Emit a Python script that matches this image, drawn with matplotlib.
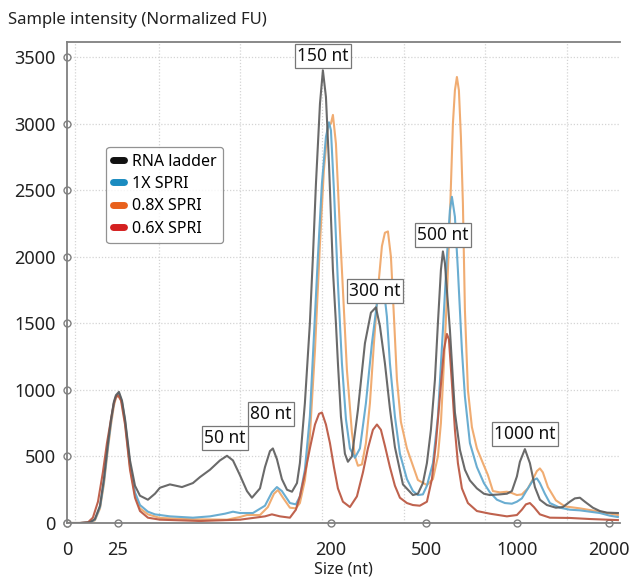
import matplotlib.pyplot as plt
from matplotlib.lines import Line2D
import numpy as np

plt.rcParams['font.family'] = ['Noto Sans', 'DejaVu Sans']

# axis: sizes in nt placed on a piecewise (non-linear) size axis
tick_nt = [0, 25, 200, 500, 1000, 2000]
scale_nt = [0, 25, 200, 500, 1000, 2000, 3000]
scale_pos = [0, 51, 264, 359, 450, 542, 634]
grid_pos = [8, 92, 173, 255, 337, 418, 500]
y_ticks = [0, 500, 1000, 1500, 2000, 2500, 3000, 3500]

# RNA ladder
ladder_x = [0, 6.4, 11.3, 13.7, 16.2, 18.1, 20.1, 21.6, 23.0, 24.0, 25.8, 28.3, 30.8, 34.9, 39.0,
            43.1, 49.6, 55.4, 59.5, 67.7, 77.6, 86.6, 92.4, 100.6, 108.8, 114.6, 119.5, 125.2,
            131.0, 135.1, 141.7, 145.8, 149.9, 152.3, 155.6, 159.7, 163.9, 168.0, 172.1, 174.5,
            178.6, 182.7, 185.2, 187.7, 191.0, 193.4, 195.9, 198.4, 206.3, 215.8, 222.1, 231.6,
            244.2, 253.7, 266.3, 285.3, 307.4, 326.3, 342.1, 354.7, 370.5, 386.3, 402.1, 427.4,
            459.0, 474.7, 490.5, 505.5, 527.5, 549.5, 565.9, 582.4, 593.4, 604.4, 615.4, 631.9,
            659.4, 686.8, 714.3, 741.8, 780.2, 818.7, 851.7, 906.6, 945.1, 972.5, 1000, 1032.6,
            1087.0, 1141.3, 1195.7, 1250, 1326, 1423.9, 1500, 1576, 1630, 1685, 1739, 1826, 1902,
            1978, 2098]
ladder_y = [0, 0, 5, 30, 130, 330, 600, 780, 910, 960, 985, 920, 780, 470, 280,
            205, 175, 220, 265, 290, 270, 300, 345, 400, 470, 505, 470, 360,
            240, 190, 260, 420, 540, 560, 480, 330, 250, 235, 300, 450,
            900, 1500, 2000, 2550, 3150, 3400, 3200, 2700, 1900, 1500, 1200, 800,
            520, 460, 500, 850, 1350, 1580, 1620, 1480, 1200, 860, 570, 290,
            210, 220, 300, 450, 700, 1074, 1500, 1900, 2040, 1950, 1750, 1450,
            830, 550, 400, 320, 260, 220, 210, 215, 220, 240, 350, 460,
            555, 450, 270, 175, 135, 115, 120, 160, 185, 190, 160, 115, 90,
            78, 75]

# 1X SPRI
spri10_x = [0, 6.4, 11.3, 13.7, 16.2, 18.1, 20.1, 21.6, 23.0, 24.0, 25.8, 28.3, 30.8, 34.9, 39.0,
            43.1, 49.6, 55.4, 67.7, 86.6, 100.6, 112.9, 119.5, 125.2, 135.9, 145.8, 151.5, 155.6,
            159.7, 166.3, 171.2, 174.5, 178.6, 182.7, 186.0, 189.3, 192.6, 195.9, 198.4, 200,
            209.5, 222.1, 234.7, 247.4, 260.0, 275.8, 291.6, 310.5, 329.5, 345.3, 357.9, 367.4,
            376.8, 386.3, 402.1, 417.9, 440, 459, 474.7, 490.5, 505.5, 538.5, 565.9, 593.4, 615.4,
            631.9, 642.9, 659.4, 675.8, 697.8, 714.3, 741.8, 780.2, 818.7, 851.7, 890.2, 934.1,
            972.5, 1000, 1054, 1119.6, 1173.9, 1217.4, 1250, 1304, 1358.7, 1467, 1576, 1685,
            1794, 1902, 2010.9, 2098]
spri10_y = [0, 0, 5, 25, 120, 310, 580, 760, 900, 950, 975, 910, 770, 440, 230,
            135, 85, 65, 50, 40, 50, 70, 85, 75, 75, 130, 230, 270,
            240, 150, 140, 200, 400, 800, 1400, 2000, 2550, 2900, 3010, 2950,
            2500, 1800, 1200, 780, 560, 490, 560, 900, 1350, 1650, 1770, 1750,
            1550, 1200, 800, 520, 330, 240, 210, 215, 280, 450, 800, 1450, 2000,
            2350, 2450, 2300, 1900, 1300, 950, 600, 420, 300, 230, 175, 150,
            145, 160, 185, 260, 320, 335, 300, 220, 150, 115, 100, 95,
            85, 75, 55, 45]

# 0.8X SPRI
spri08_x = [0, 6.4, 11.3, 13.7, 16.2, 18.1, 20.1, 21.6, 23.0, 24.0, 25.8, 28.3, 30.8, 34.9, 39.0,
            43.1, 49.6, 59.5, 86.6, 114.6, 125.2, 131.0, 141.7, 148.2, 153.2, 156.5, 160.6,
            166.3, 171.2, 174.5, 178.6, 182.7, 186.9, 191.0, 194.2, 197.5, 200, 206.3, 215.8,
            228.4, 237.9, 250.5, 266.3, 275.8, 285.3, 297.9, 310.5, 323.2, 335.8, 348.4, 361.1,
            370.5, 380.0, 389.5, 399, 408.4, 421, 440, 474.7, 505.5, 538.5, 565.9, 582.4, 598.9,
            615.4, 631.9, 648.4, 659.4, 670.3, 681.3, 692.3, 703.3, 714.3, 730.8, 752.8, 780.2,
            813.2, 840.7, 868.2, 906.6, 945.1, 972.5, 1000, 1054, 1119.6, 1173.9, 1217.4, 1250,
            1282.6, 1337, 1423.9, 1521.8, 1684.8, 1902, 2098]
spri08_y = [0, 0, 5, 20, 110, 290, 560, 740, 880, 940, 965, 900, 760, 420, 210,
            110, 65, 38, 28, 25, 45, 60, 60, 120, 220, 248, 190,
            115, 110, 150, 320, 650, 1300, 2100, 2650, 2980, 3000, 3065, 2850,
            2200, 1750, 1150, 680, 500, 430, 440, 600, 900, 1350, 1750, 2080,
            2180, 2190, 2000, 1550, 1080, 760, 560, 323, 285, 330, 500, 750, 1200,
            1700, 2300, 3000, 3250, 3350, 3250, 2900, 2400, 1600, 1000, 720, 560,
            450, 360, 240, 230, 235, 225, 210, 215, 260, 330, 390, 410,
            380, 270, 170, 125, 110, 85, 60]

# 0.6X SPRI
spri06_x = [0, 6.4, 10.3, 12.7, 15.2, 17.6, 19.6, 21.6, 23.0, 24.0, 25, 27.5, 30.8, 34.9, 39.0,
            43.1, 49.6, 59.5, 92.4, 125.2, 137.6, 145.8, 151.5, 158.1, 166.3, 171.2, 174.5, 178.6,
            182.7, 186.9, 190.2, 192.6, 195.9, 199.2, 209.5, 222.1, 237.9, 260, 282.1, 301.1,
            316.8, 332.6, 345.3, 357.9, 370.5, 386.3, 402.1, 417.9, 440, 459, 480.8, 505.5, 533,
            555, 576.9, 598.9, 615.4, 626.4, 642.9, 659.4, 675.8, 697.8, 730.8, 780.2, 851.7,
            945.1, 1000, 1054, 1097.8, 1141.3, 1184.8, 1250, 1358.7, 1576, 1794, 2098]
spri06_y = [0, 0, 5, 40, 160, 380, 600, 780, 900, 945, 960, 920, 740, 400, 190,
            90, 40, 25, 15, 25, 40, 50, 65, 50, 40, 100, 200, 370,
            560, 740, 820, 830, 740, 600, 420, 260, 160, 120, 200, 380,
            560, 700, 740, 700, 580, 420, 280, 190, 150, 135, 130, 160, 330,
            600, 950, 1300, 1420, 1380, 1050, 700, 450, 260, 150, 90, 70,
            50, 60, 100, 140, 150, 120, 65, 40, 38, 30, 22]

series_names = ['RNA ladder', '1X SPRI', '0.8X SPRI', '0.6X SPRI']
peak_labels = ['150 nt', '50 nt', '80 nt', '300 nt', '500 nt', '1000 nt']
label_x = [193.4, 112.9, 150.7, 338.9, 593.4, 1087]
label_y = [3508, 638, 819, 1743, 2163, 668]


def fwd(x):
    return np.interp(x, scale_nt, scale_pos)


def inv(u):
    return np.interp(u, scale_pos, scale_nt)


fig = plt.figure(figsize=(6.3, 5.79), dpi=100)
ax = fig.add_axes([0.1063, 0.0967, 0.8777, 0.8308])
ax.set_xscale('function', functions=(fwd, inv))
ax.set_xlim(0, 2120)
ax.set_ylim(0, 3613)

for u in grid_pos:
    ax.axvline(inv(u), color='#d4d4d4', lw=0.9, ls=(0, (1, 1.5)), zorder=0)
for v in y_ticks[1:]:
    ax.axhline(v, color='#d4d4d4', lw=0.9, ls=(0, (1, 1.5)), zorder=0)

ax.plot(spri08_x, spri08_y, color='#f0a86a', lw=1.5, alpha=0.95)
ax.plot(spri10_x, spri10_y, color='#62a9cf', lw=1.5, alpha=0.95)
ax.plot(spri06_x, spri06_y, color='#bc5a44', lw=1.5, alpha=0.95)
ax.plot(ladder_x, ladder_y, color='#5a5a5a', lw=1.5, alpha=0.9)

for txt, lx, ly in zip(peak_labels, label_x, label_y):
    ax.text(lx, ly, txt, ha='center', va='center', fontsize=12.5, color='#111111',
            bbox=dict(boxstyle='square,pad=0.15', fc='white', ec='#777777', lw=0.9))

handles = [Line2D([], [], color=c, lw=5, solid_capstyle='round')
           for c in ['#111111', '#1a8bc0', '#e8601c', '#d42020']]
leg = ax.legend(handles, series_names, loc='upper left', bbox_to_anchor=(0.057, 0.798),
                fontsize=11.5, handlelength=0.7, handletextpad=0.5, labelspacing=0.4,
                borderpad=0.4, frameon=True, fancybox=True)
leg.get_frame().set_edgecolor('#777777')
leg.get_frame().set_linewidth(0.9)

for s in ['left', 'bottom', 'top']:
    ax.spines[s].set_color('#808080')
    ax.spines[s].set_linewidth(1.3)
ax.spines['right'].set_visible(False)

ax.set_xticks(tick_nt)
ax.set_xticklabels([str(t) for t in tick_nt])
ax.set_yticks(y_ticks)
ax.tick_params(axis='both', labelsize=13, length=0, colors='#222222')
ax.tick_params(axis='x', pad=13)
ax.tick_params(axis='y', pad=8)
for tick in ax.xaxis.get_major_ticks() + ax.yaxis.get_major_ticks():
    tick.tick1line.set_marker('o')
    tick.tick1line.set_markersize(5)
    tick.tick1line.set_markerfacecolor('white')
    tick.tick1line.set_markeredgecolor('#808080')
    tick.tick1line.set_markeredgewidth(1.0)
    tick.tick1line.set_clip_on(False)
    tick.tick1line.set_zorder(5)

fig.text(8 / 630, 1 - 20 / 579, 'Sample intensity (Normalized FU)', fontsize=12,
         ha='left', va='center', color='#222222')
fig.text(343 / 630, 1 - 561 / 579, 'Size (nt)', fontsize=11.5, ha='center', va='top',
         color='#222222')

fig.savefig('out.png', dpi=100)
